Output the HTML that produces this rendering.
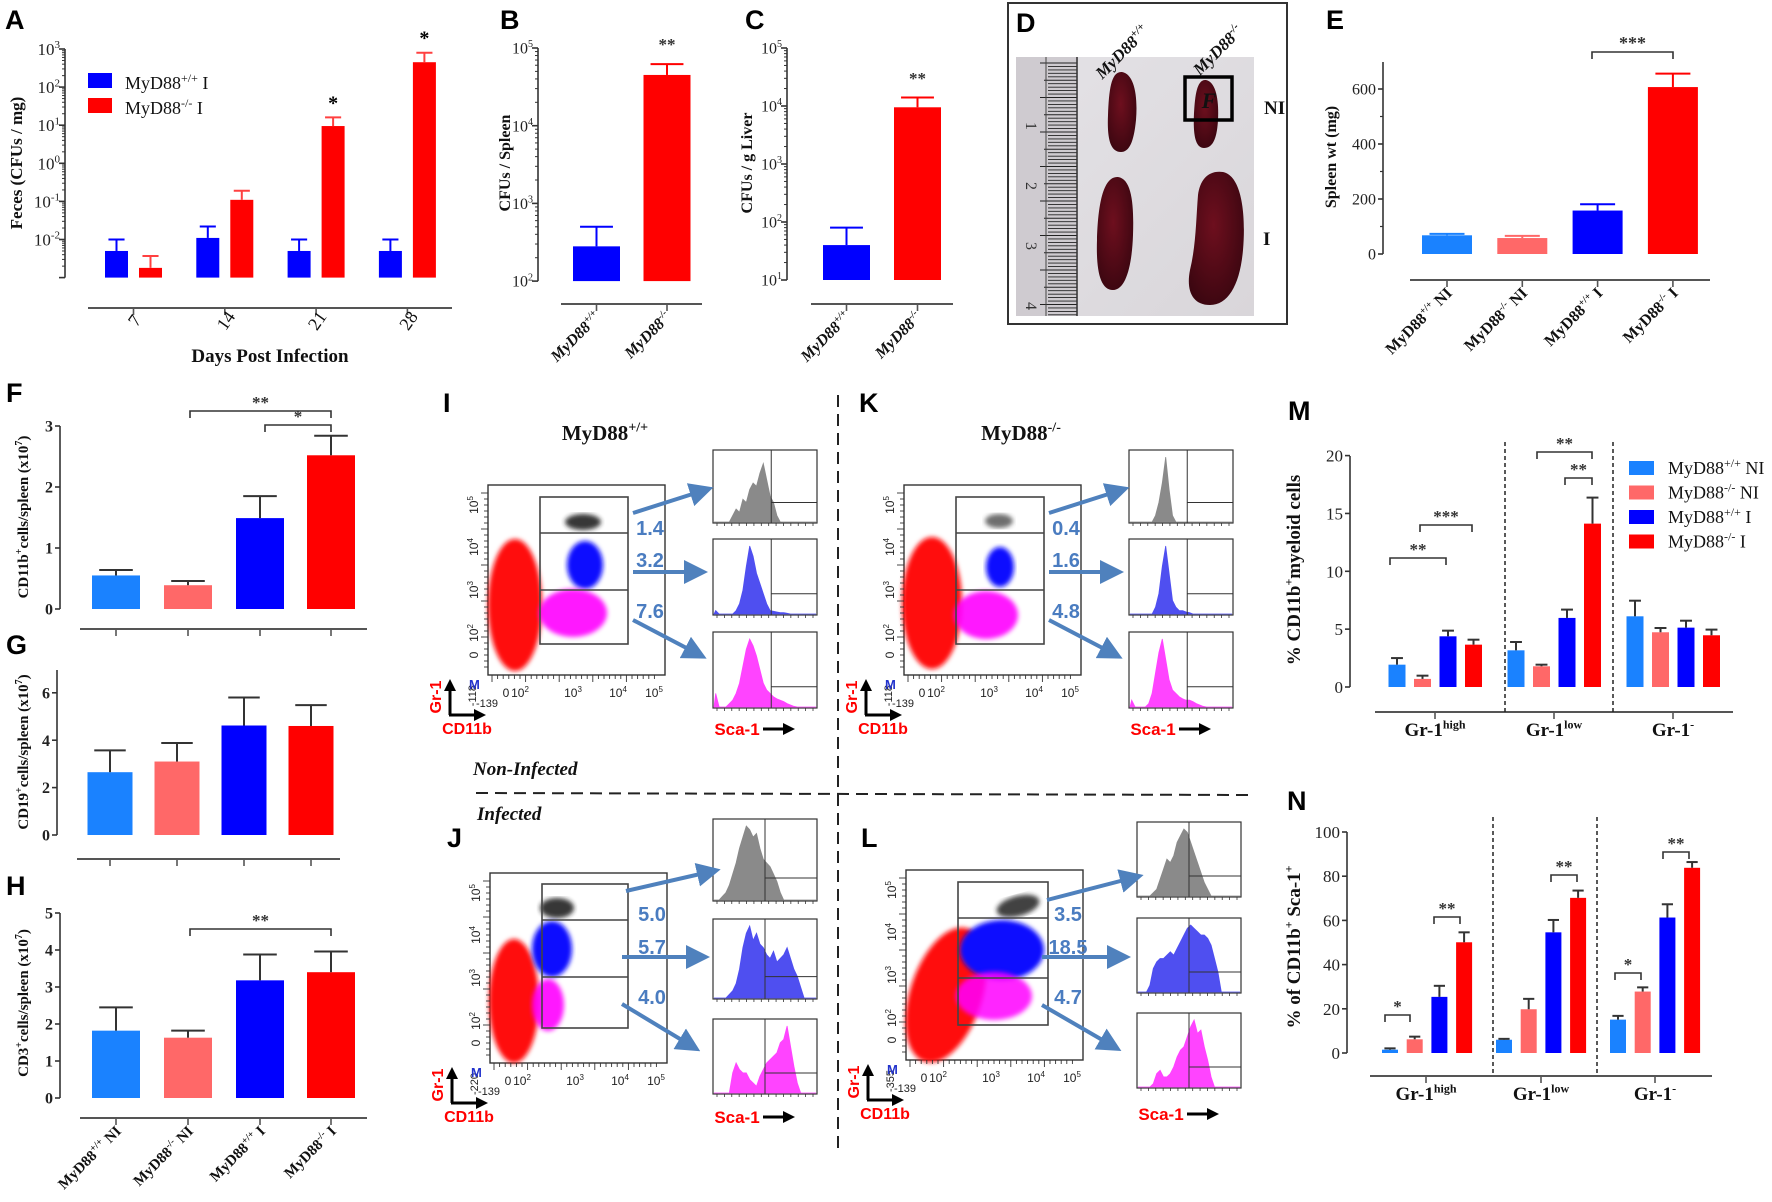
<!DOCTYPE html>
<html><head><meta charset="utf-8">
<style>
html,body{margin:0;padding:0;background:#fff}
svg{display:block}
text{font-family:"Liberation Serif",serif}
.sans{font-family:"Liberation Sans",sans-serif}
</style></head>
<body>
<svg id="fig" width="1772" height="1202" viewBox="0 0 1772 1202" xmlns="http://www.w3.org/2000/svg">
<defs>
  <filter id="blur2"><feGaussianBlur stdDeviation="2.5"/></filter>
  <filter id="blur1"><feGaussianBlur stdDeviation="1.2"/></filter>
  <radialGradient id="spleen" cx="45%" cy="40%" r="65%">
    <stop offset="0" stop-color="#6e0f1e"/><stop offset="1" stop-color="#3a0610"/>
  </radialGradient>
  <linearGradient id="photo" x1="0" y1="0" x2="1" y2="1">
    <stop offset="0" stop-color="#e4e2e6"/><stop offset="1" stop-color="#d9d6da"/>
  </linearGradient>
  <marker id="arrowhead" markerWidth="6" markerHeight="6" refX="3" refY="3" orient="auto" markerUnits="strokeWidth">
    <path d="M0,0 L6,3 L0,6 Z" fill="#4f81bd"/>
  </marker>
  <marker id="blackhead" markerWidth="4" markerHeight="4" refX="2" refY="2" orient="auto" markerUnits="strokeWidth">
    <path d="M0,0 L4,2 L0,4 Z" fill="#000"/>
  </marker>
</defs>
</svg>
<script>
// ---------------- DATA ----------------
const aCats = ['7','14','21','28'];
const aWT = [0.005, 0.011, 0.005, 0.005];
const aWTerr = [0.01, 0.022, 0.01, 0.01];
const aKO = [0.0018, 0.11, 9.5, 450];
const aKOerr = [0.0037, 0.19, 16, 800];
const bCats = ['+/+','-/-'];
const bVals = [280, 45000];
const bErr = [500, 62000];
const cVals = [40, 9500];
const cErr = [80, 14000];
const groupCats = ['+/+ NI','-/- NI','+/+ I','-/- I'];
const eVals = [68, 58, 158, 607];
const eErr = [73, 66, 181, 656];
const eTicks = [0, 200, 400, 600];
const fVals = [0.55, 0.39, 1.49, 2.52];
const fErr = [0.64, 0.46, 1.85, 2.84];
const fTicks = [0, 1, 2, 3];
const gVals = [2.65, 3.1, 4.62, 4.6];
const gErr = [3.57, 3.88, 5.8, 5.48];
const gTicks = [0, 2, 4, 6];
const hVals = [1.82, 1.63, 3.18, 3.4];
const hErr = [2.45, 1.82, 3.88, 3.96];
const hTicks = [0, 1, 2, 3, 4, 5];
const mGroups = ['high','low','-'];
const mVals = [[1.93,0.7,4.38,3.66],[3.17,1.79,5.97,14.12],[6.11,4.73,5.13,4.47]];
const mErr = [[2.5,0.98,4.87,4.09],[3.89,1.93,6.69,16.37],[7.46,5.1,5.73,4.96]];
const mTicks = [0, 5, 10, 15, 20];
const nVals = [[1.5,6.2,25.4,50.1],[6.0,19.8,54.6,70.2],[15.1,27.8,61.3,83.8]];
const nErr = [[2.1,7.4,30.4,54.6],[6.4,24.5,60.2,73.5],[16.8,29.7,67.3,86.4]];
const nTicks = [0, 20, 40, 60, 80, 100];
const legendLabels = ['MyD88^+/+| NI','MyD88^-/-| NI','MyD88^+/+| I','MyD88^-/-| I'];
const flowNumsI = ['1.4','3.2','7.6'];
const flowNumsJ = ['5.0','5.7','4.0'];
const flowNumsK = ['0.4','1.6','4.8'];
const flowNumsL = ['3.5','18.5','4.7'];
// histogram height profiles (0..1 across width)
const histIg = [0,0,0,0,0,0.1,0.2,0.15,0.35,0.3,0.5,0.6,0.55,0.75,0.9,0.65,0.4,0.3,0.1,0,0,0,0,0,0,0,0,0,0,0];
const histIb = [0.05,0,0,0,0,0,0.05,0.15,0.35,0.7,1,0.85,0.6,0.45,0.3,0.15,0.05,0.04,0.03,0.02,0.02,0.01,0,0,0,0,0,0,0,0];
const histIm = [0.2,0,0,0,0.05,0.1,0.2,0.35,0.6,0.85,1,0.9,0.75,0.55,0.35,0.25,0.2,0.15,0.12,0.1,0.08,0.05,0.03,0.01,0,0,0,0,0,0];
const histKg = [0,0,0,0,0,0,0,0.1,0.3,0.6,1,0.5,0.1,0,0,0,0,0,0,0,0,0,0,0,0,0,0,0,0,0];
const histKb = [0,0,0,0,0,0,0,0.1,0.3,0.7,1,0.6,0.2,0.1,0.05,0.05,0.03,0.02,0,0,0,0,0,0,0,0,0,0,0,0];
const histKm = [0.1,0,0,0,0,0.05,0.2,0.5,0.8,1,0.7,0.4,0.25,0.2,0.15,0.12,0.1,0.1,0.08,0.05,0.03,0.01,0,0,0,0,0,0,0,0];
const histJg = [0,0,0.05,0.1,0.2,0.35,0.5,0.7,0.85,1,0.95,0.85,0.9,0.7,0.55,0.5,0.45,0.35,0.25,0.1,0,0,0,0,0,0,0,0,0,0];
const histJb = [0,0,0,0,0.05,0.1,0.2,0.4,0.7,0.9,1,0.8,0.9,0.75,0.7,0.6,0.55,0.65,0.5,0.55,0.6,0.7,0.55,0.4,0.3,0.15,0,0,0,0];
const histJm = [0,0,0,0,0,0.3,0.45,0.35,0.3,0.3,0.2,0.15,0.1,0.25,0.35,0.45,0.5,0.55,0.6,0.75,0.8,1,0.7,0.4,0.15,0,0,0,0,0];
const histLg = [0,0,0,0,0.05,0.1,0.25,0.4,0.55,0.5,0.6,0.8,0.9,1,0.95,0.8,0.65,0.5,0.35,0.2,0.1,0,0,0,0,0,0,0,0,0];
const histLb = [0,0,0,0.1,0.35,0.45,0.5,0.5,0.55,0.6,0.55,0.65,0.75,0.85,0.95,1,0.95,0.9,0.85,0.85,0.8,0.7,0.5,0.3,0,0,0,0,0,0];
const histLm = [0,0,0,0,0.05,0.2,0.25,0.15,0.15,0.2,0.3,0.45,0.55,0.6,0.75,0.9,1,0.8,0.85,0.6,0.4,0.15,0,0,0,0,0,0,0,0];

const C_LB='#1a82ff', C_PK='#ff6868', C_BL='#0000ff', C_RD='#ff0000';
const groupCols=[C_LB,C_PK,C_BL,C_RD];

// ---------------- HELPERS ----------------
const NS='http://www.w3.org/2000/svg';
const svg=document.getElementById('fig');
function mk(tag, attrs, parent){
  const e=document.createElementNS(NS,tag);
  for(const k in attrs) e.setAttribute(k,attrs[k]);
  (parent||svg).appendChild(e);
  return e;
}
function grp(name){
  const g=mk('g',{});
  
  
  return g;
}
function ln(p,x1,y1,x2,y2,stroke,w,name,extra){
  const a={x1:x1,y1:y1,x2:x2,y2:y2,stroke:stroke,'stroke-width':w};
  if(extra) for(const k in extra) a[k]=extra[k];
  const e=mk('line',a,p);
  
  
  return e;
}
// rich text: "MyD88^+/+| NI"  -> '^' starts superscript, '|' ends it
function rich(p,x,y,str,size,attrs,name){
  const a={x:x,y:y,'font-size':size};
  if(attrs) for(const k in attrs) a[k]=attrs[k];
  const t=mk('text',a,p);
  
  
  let i=0, buf='', sup=false;
  function flush(){
    if(!buf) return;
    const ts=document.createElementNS(NS,'tspan');
    if(sup){ ts.setAttribute('font-size', Math.round(size*0.65)); ts.setAttribute('dy', -size*0.4); }
    ts.textContent=buf; t.appendChild(ts); buf='';
    return ts;
  }
  let needDown=false;
  for(const ch of str){
    if(ch==='^'){ flush(); sup=true; }
    else if(ch==='|'){ flush(); sup=false; needDown=true; }
    else {
      if(needDown && !sup){
        const ts=document.createElementNS(NS,'tspan');
        ts.setAttribute('dy', size*0.4);
        ts.textContent=ch; t.appendChild(ts); needDown=false; continue;
      }
      buf+=ch;
    }
  }
  const last=flush();
  return t;
}
function label(p,x,y,str,size,attrs,name){ return rich(p,x,y,str,size,attrs,name); }

function bars(p, prefix, xs, vals, errs, yf, base, w, cols, ecols){
  for(let i=0;i<vals.length;i++){
    const y=yf(vals[i]);
    const r=mk('rect',{x:xs[i]-w/2,y:y,width:w,height:base-y,fill:cols[i]},p);
    
    
    const ye=yf(errs[i]);
    ln(p,xs[i],y,xs[i],ye,ecols[i],2,prefix+'-error-bar-'+i);
    ln(p,xs[i]-w*0.35,ye,xs[i]+w*0.35,ye,ecols[i],2,prefix+'-error-cap-'+i);
  }
}
function bracket(p,x1,x2,y,stars,name,size){
  const path=mk('path',{d:`M${x1},${y+7} L${x1},${y} L${x2},${y} L${x2},${y+7}`,fill:'none',stroke:'#333','stroke-width':1.6},p);
  
  
  const t=mk('text',{x:(x1+x2)/2,y:y-3,'text-anchor':'middle','font-size':size||17,'font-weight':'bold',fill:'#333'},p);
  
  
  t.textContent=stars;
}
function linYAxis(p,prefix,x,ytop,ybot,ticks,yf,size,bold,minor){
  ln(p,x,ytop,x,ybot,'#333',1.6,prefix+'-y-axis');
  ticks.forEach((v,i)=>{
    const y=yf(v);
    ln(p,x-5,y,x,y,'#333',1.6,prefix+'-y-tick-'+i);
    const t=mk('text',{x:x-7,y:y+size*0.35,'text-anchor':'end','font-size':size,'font-weight':bold?'bold':'normal',fill:'#222'},p);
    
    
    t.textContent=String(v);
  });
  if(minor) minor.forEach((v,i)=>{ const y=yf(v); ln(p,x-3,y,x,y,'#333',1.2,prefix+'-y-minor-'+i); });
}
function logYAxis(p,prefix,x,yf,eTop,eBot,size){
  ln(p,x,yf(Math.pow(10,eTop)),x,yf(Math.pow(10,eBot)),'#333',1.6,prefix+'-y-axis');
  for(let e=eBot;e<=eTop;e++){
    const y=yf(Math.pow(10,e));
    ln(p,x-6,y,x,y,'#333',1.6,prefix+'-y-tick-'+e);
    if(!(prefix==='a' && e===-3)) rich(p,x-5,y+size*0.35,'10^'+e,size,{'text-anchor':'end',fill:'#222'},prefix+'-y-tick-label-'+e);
    if(e<eTop) for(let k=2;k<=9;k++){ const ym=yf(k*Math.pow(10,e)); ln(p,x-3,ym,x,ym,'#333',1,prefix+'-y-minor'); }
  }
}
function xLine(p,prefix,x1,x2,y,ticks){
  ln(p,x1,y,x2,y,'#555',2,prefix+'-x-axis');
  ticks.forEach((tx,i)=>ln(p,tx,y,tx,y+7,'#555',1.6,prefix+'-x-tick-'+i));
}
function rotLabel(p,x,y,str,size,angle,attrs,name){
  const a={'text-anchor':'end',transform:`rotate(${angle} ${x} ${y})`,'font-weight':'bold',fill:'#111'};
  if(attrs) for(const k in attrs) a[k]=attrs[k];
  return rich(p,x,y,str,size,a,name);
}
function yTitle(p,cx,cy,str,size,name){
  return rich(p,cx,cy,str,size,{'text-anchor':'middle',transform:`rotate(-90 ${cx} ${cy})`,'font-weight':'bold',fill:'#111'},name);
}
function panelLetter(x,y,ch){
  const t=mk('text',{x:x,y:y,'font-size':27,'font-weight':'bold',class:'sans',fill:'#000'});
  
  
  t.textContent=ch;
}

// ---------------- PANEL A ----------------
(function(){
  const p=grp('panel-a-feces-chart');
  const yA=v=>49+(3-Math.log10(v))*38.1;
  const base=yA(0.001);
  logYAxis(p,'a',65,yA,3,-3,17);
  const xsW=aCats.map((c,i)=>116.5+i*91.3);
  const xsK=aCats.map((c,i)=>150.5+i*91.3);
  bars(p,'a-wt',xsW,aWT,aWTerr,yA,base,23,aCats.map(()=>C_BL),aCats.map(()=>C_BL));
  bars(p,'a-ko',xsK,aKO,aKOerr,yA,base,23,aCats.map(()=>C_RD),aCats.map(()=>'#ff4040'));
  const tks=aCats.map((c,i)=>(xsW[i]+xsK[i])/2);
  xLine(p,'a',88,452,308,tks);
  aCats.forEach((c,i)=>rotLabel(p,tks[i]+6,324,c,18,-55,{'font-weight':'normal','text-anchor':'middle'},'a-x-label-'+c));
  label(p,270,362,'Days Post  Infection',19,{'text-anchor':'middle','font-weight':'bold',fill:'#111'},'a-x-axis-title');
  yTitle(p,22,163,'Feces (CFUs / mg)',17,'a-y-axis-title');
  [2,3].forEach(i=>label(p,xsK[i],yA(aKOerr[i])-8,'*',20,{'text-anchor':'middle','font-weight':'bold'},'a-significance-'+aCats[i]));
  const r1=mk('rect',{x:88,y:73,width:24,height:15,fill:C_BL},p);
  
  
  label(p,125,89,'MyD88^+/+| I',18,{fill:'#111'},'a-legend-entry-wt');
  const r2=mk('rect',{x:88,y:98,width:24,height:15,fill:C_RD},p);
  
  
  label(p,125,114,'MyD88^-/-| I',18,{fill:'#111'},'a-legend-entry-ko');
})();

// ---------------- PANEL B & C ----------------
function logPanel(prefix,ax,yf,eTop,eBot,xs,vals,errs,title,tcx,starY,lineX1,lineX2,w){
  const p=grp('panel-'+prefix+'-chart');
  const base=yf(Math.pow(10,eBot));
  logYAxis(p,prefix,ax,yf,eTop,eBot,16);
  bars(p,prefix,xs,vals,errs,yf,base,w,[C_BL,C_RD],[C_BL,C_RD]);
  xLine(p,prefix,lineX1,lineX2,304,xs);
  bCats.forEach((c,i)=>rotLabel(p,xs[i]+5,318,'MyD88^'+c+'|',16,-45,{'font-style':'italic'},prefix+'-x-label-'+i));
  yTitle(p,tcx,163,title,16,prefix+'-y-axis-title');
  label(p,xs[1],starY,'**',17,{'text-anchor':'middle','font-weight':'bold',fill:'#333'},prefix+'-significance');
}
logPanel('b',538,v=>48+(5-Math.log10(v))*77.7,5,2,[596.5,667],bVals,bErr,'CFUs / Spleen',510,50,561,702,47);
logPanel('c',787,v=>48+(5-Math.log10(v))*58,5,1,[846.5,917.5],cVals,cErr,'CFUs / g Liver',752,84,811,953,47);

// ---------------- PANEL D (photo) ----------------
(function(){
  const p=grp('panel-d-spleen-photo');
  const box=mk('rect',{x:1008,y:3,width:279,height:321,fill:'#fff',stroke:'#333','stroke-width':2},p);
  
  
  const ph=mk('rect',{x:1016,y:57,width:238,height:259,fill:'url(#photo)'},p);
  
  
  const ru=mk('rect',{x:1016,y:57,width:62,height:259,fill:'#cfcbd0'},p);
  
  
  for(let k=0;k<74;k++){
    const y=63+k*3.45;
    ln(p,(k%10===0)?1040:((k%5===0)?1044:1048),y,1077,y,'#222',0.9,'d-ruler-tick');
  }
  ln(p,1046,57,1046,316,'#444',1,'d-ruler-edge');
  ln(p,1077,57,1077,316,'#333',1.5,'d-ruler-edge');
  ['1','2','3','4'].forEach((n,i)=>label(p,1026,122+i*60,n,16,{transform:`rotate(90 1026 ${122+i*60})`,fill:'#333'},'d-ruler-number-'+n));
  const sp=[
    ['d-spleen-wt-ni','M1122,72 C1134,74 1138,95 1136,120 C1134,140 1130,152 1121,152 C1110,152 1107,138 1108,115 C1109,90 1111,71 1122,72 Z'],
    ['d-spleen-ko-ni','M1206,80 C1216,82 1219,100 1218,120 C1217,138 1213,148 1204,148 C1195,148 1193,134 1194,113 C1195,95 1197,79 1206,80 Z'],
    ['d-spleen-wt-i','M1118,177 C1132,179 1134,205 1133,235 C1132,265 1126,290 1113,290 C1100,290 1096,270 1097,240 C1098,205 1103,176 1118,177 Z'],
    ['d-spleen-ko-i','M1223,172 C1242,176 1246,215 1243,250 C1240,285 1228,305 1210,305 C1192,305 1186,290 1190,270 C1196,245 1196,220 1198,195 C1200,180 1208,170 1223,172 Z']
  ];
  sp.forEach(s=>{ const e=mk('path',{d:s[1],fill:'url(#spleen)'},p);   });
  const sq=mk('rect',{x:1185,y:77,width:47,height:43,fill:'none',stroke:'#000','stroke-width':3.5},p);
  
  
  label(p,1209,108,'F',22,{'text-anchor':'middle','font-style':'italic','font-weight':'bold',fill:'#111'},'d-box-label');
  rotLabel(p,1150,32,'MyD88^+/+|',17,-45,{'text-anchor':'end','font-style':'italic'},'d-column-label-wt');
  rotLabel(p,1244,32,'MyD88^-/-|',17,-45,{'text-anchor':'end','font-style':'italic'},'d-column-label-ko');
  label(p,1264,114,'NI',19,{'font-weight':'bold',fill:'#111'},'d-row-label-ni');
  label(p,1263,245,'I',19,{'font-weight':'bold',fill:'#111'},'d-row-label-i');
})();

// ---------------- PANEL E ----------------
(function(){
  const p=grp('panel-e-spleen-weight-chart');
  const yE=v=>254-v*0.275;
  linYAxis(p,'e',1383,62,254,eTicks,yE,16,false,[100,300,500]);
  const xs=groupCats.map((c,i)=>1447+i*75.3);
  bars(p,'e',xs,eVals,eErr,yE,254,50,groupCols,groupCols);
  xLine(p,'e',1410,1710,280,xs);
  groupCats.forEach((c,i)=>rotLabel(p,xs[i]+6,294,'MyD88^'+c.split(' ')[0]+'| '+c.split(' ')[1],16,-45,{},'e-x-label-'+i));
  bracket(p,1592,1673,52,'***','e-significance-bracket',18);
  yTitle(p,1336,157,'Spleen wt (mg)',16,'e-y-axis-title');
})();

// ---------------- PANELS F, G, H ----------------
function groupPanel(prefix,axX,ytop,base,scale,ticks,xs,w,vals,errs,lineY,lineX2,title,tcy,showLabels){
  const p=grp('panel-'+prefix+'-chart');
  const yf=v=>base-v*scale;
  linYAxis(p,prefix,axX,ytop,base,ticks,yf,16,true);
  bars(p,prefix,xs,vals,errs,yf,base,w,groupCols,groupCols.map(()=>'#333'));
  xLine(p,prefix,axX+20,lineX2,lineY,xs);
  if(showLabels) groupCats.forEach((c,i)=>rotLabel(p,xs[i]+6,lineY+14,'MyD88^'+c.split(' ')[0]+'| '+c.split(' ')[1],15,-45,{},prefix+'-x-label-'+i));
  yTitle(p,28,tcy,title,15,prefix+'-y-axis-title');
  return p;
}
const fp=groupPanel('f',60,426,609,61,fTicks,[116,188,260,331],48,fVals,fErr,629,367,'CD11b^+|cells/spleen (x10^7|)',517,false);
bracket(fp,190,331,411,'**','f-significance-bracket-1',17);
bracket(fp,265,331,425,'*','f-significance-bracket-2',17);
groupPanel('g',57,670,835,23.7,gTicks,[110,177,244,311],45,gVals,gErr,859,340,'CD19^+|cells/spleen (x10^7|)',752,false);
const hp=groupPanel('h',60,913,1098,37,hTicks,[116,188,260,331],48,hVals,hErr,1118,367,'CD3^+|cells/spleen (x10^7|)',1003,true);
bracket(hp,190,331,929,'**','h-significance-bracket',17);

// ---------------- PANELS M, N ----------------
function clusterPanel(prefix,axX,ytop,base,scale,ticks,starts,step,w,vals,errs,lineY,lineX1,lineX2,gTicksX,seps,sepTop,title,tcx,tcy){
  const p=grp('panel-'+prefix+'-chart');
  const yf=v=>base-v*scale;
  linYAxis(p,prefix,axX,ytop,base,ticks,yf,17,false);
  mGroups.forEach((g,gi)=>{
    const xs=vals[gi].map((v,i)=>starts[gi]+i*step);
    bars(p,prefix+'-'+g,xs,vals[gi],errs[gi],yf,base,w,groupCols,groupCols.map(()=>'#333'));
  });
  xLine(p,prefix,lineX1,lineX2,lineY,gTicksX);
  seps.forEach((sx,i)=>ln(p,sx,sepTop,sx,lineY,'#222',1.5,prefix+'-group-separator-'+i,{'stroke-dasharray':'4,3'}));
  mGroups.forEach((g,gi)=>rich(p,gTicksX[gi],lineY+24,'Gr-1^'+g+'|',19,{'text-anchor':'middle','font-weight':'bold',fill:'#111'},prefix+'-x-label-'+g));
  yTitle(p,tcx,tcy,title,19,prefix+'-y-axis-title');
  return p;
}
const mp=clusterPanel('m',1350,456,687,11.57,mTicks,[1397,1516,1635],25.5,17,mVals,mErr,712,1375,1733,[1435,1554,1673],[1505,1613],442,'% CD11b^+|myeloid cells',1300,570);
bracket(mp,1390,1446,558,'**','m-significance-high-1',17);
bracket(mp,1420,1472,525,'***','m-significance-high-2',17);
bracket(mp,1537,1592,452,'**','m-significance-low-1',17);
bracket(mp,1565,1592,478,'**','m-significance-low-2',17);
legendLabels.forEach((l,i)=>{
  const y=461+i*24.5;
  const r=mk('rect',{x:1629,y:y,width:25,height:14,fill:groupCols[i]},mp);
  
  
  rich(mp,1668,y+13,l,18,{fill:'#111'},'m-legend-entry-'+i);
});
const np=clusterPanel('n',1347,832,1053,2.21,nTicks,[1390,1504,1618],24.7,16,nVals,nErr,1076,1370,1712,[1426,1541,1655],[1493,1597],817,'% of CD11b^+| Sca-1^+|',1300,947);
bracket(np,1385,1410,1015,'*','n-significance-high-1',17);
bracket(np,1434,1460,917,'**','n-significance-high-2',17);
bracket(np,1551,1577,875,'**','n-significance-low',17);
bracket(np,1615,1641,973,'*','n-significance-neg-1',17);
bracket(np,1663,1689,852,'**','n-significance-neg-2',17);

// ---------------- FLOW PANELS ----------------
function histo(p,name,x,y,w,h,shape,fill,gx){
  const fr=mk('rect',{x:x,y:y,width:w,height:h,fill:'#fff',stroke:'#333','stroke-width':1.2},p);
  
  
  const n=shape.length;
  let d=`M${x+1},${y+h-1}`;
  shape.forEach((v,i)=>{ d+=` L${x+1+(i+0.5)*(w-2)/n},${y+h-1-v*(h-8)}`; });
  d+=` L${x+w-1},${y+h-1} Z`;
  const pa=mk('path',{d:d,fill:fill,stroke:fill,'stroke-width':0.8},p);
  
  
  ln(p,x+w*gx,y,x+w*gx,y+h,'#333',1,name+'-gate-line');
  ln(p,x+w*gx,y+h*0.72,x+w,y+h*0.72,'#333',1,name+'-gate-line-h');
  for(let k=0;k<14;k++) ln(p,x+4+k*(w-8)/13,y+h,x+4+k*(w-8)/13,y+h+3,'#333',0.8,name+'-tick');
}
function flowPanel(cfg){
  const p=grp(cfg.name);
  const ox=cfg.ox, oy=cfg.oy;
  const fr=mk('rect',{x:ox,y:oy,width:177,height:190,fill:'#fff',stroke:'#333','stroke-width':1.4},p);
  
  
  cfg.blobs.forEach((b,i)=>{
    const e=mk('ellipse',{cx:ox+b[0],cy:oy+b[1],rx:b[2],ry:b[3],fill:b[4],filter:'url(#blur2)',opacity:b[6]||1,transform:`rotate(${b[5]||0} ${ox+b[0]} ${oy+b[1]})`},p);
    
    
  });
  const g=cfg.gate;
  const gr=mk('rect',{x:ox+g[0],y:oy+g[1],width:g[2]-g[0],height:g[3]-g[1],fill:'none',stroke:'#444','stroke-width':1.6},p);
  
  
  ln(p,ox+g[0],oy+g[4],ox+g[2],oy+g[4],'#444',1.6,cfg.name+'-gate-divider-1');
  ln(p,ox+g[0],oy+g[5],ox+g[2],oy+g[5],'#444',1.6,cfg.name+'-gate-divider-2');
  // axis ticks
  for(let k=0;k<30;k++){ ln(p,ox+4+k*5.6,oy+190,ox+4+k*5.6,oy+190+(k%6===0?7:4),'#333',0.9,cfg.name+'-x-tick'); }
  for(let k=0;k<30;k++){ ln(p,ox-(k%6===0?7:4),oy+8+k*6,ox,oy+8+k*6,'#333',0.9,cfg.name+'-y-tick'); }
  [['10^5|',20],['10^4|',62],['10^3|',105],['10^2|',148]].forEach((l,i)=>rich(p,ox-10,oy+l[1],l[0],12,{'text-anchor':'middle',transform:`rotate(-90 ${ox-10} ${oy+l[1]})`,fill:'#222',class:'sans'},cfg.name+'-y-tick-label-'+i));
  rich(p,ox-10,oy+170,'0',12,{'text-anchor':'middle',transform:`rotate(-90 ${ox-10} ${oy+170})`,fill:'#222',class:'sans'},cfg.name+'-y-tick-label-0');
  rich(p,ox-12,oy+200,cfg.ymin,11,{'text-anchor':'end',transform:`rotate(-90 ${ox-12} ${oy+200})`,fill:'#222',class:'sans'},cfg.name+'-y-min-label');
  [['0',18],['10^2|',32],['10^3|',85],['10^4|',130],['10^5|',166]].forEach((l,i)=>rich(p,ox+l[1],oy+212,l[0],12,{'text-anchor':'middle',fill:'#222',class:'sans'},cfg.name+'-x-tick-label-'+i));
  rich(p,ox-1,oy+222,'-139',11,{'text-anchor':'middle',fill:'#222',class:'sans'},cfg.name+'-x-min-label');
  rich(p,ox-19,oy+204,'M',13,{'font-weight':'bold',fill:'#2233cc',class:'sans'},cfg.name+'-marker-m');
  // corner axis arrows
  ln(p,ox-38,oy+230,ox-38,oy+200,'#000',3,cfg.name+'-gr1-arrow',{'marker-end':'url(#blackhead)'});
  ln(p,ox-39,oy+230,ox-8,oy+230,'#000',3,cfg.name+'-cd11b-arrow',{'marker-end':'url(#blackhead)'});
  rich(p,ox-47,oy+212,'Gr-1',16,{'text-anchor':'middle',transform:`rotate(-90 ${ox-47} ${oy+212})`,'font-weight':'bold',fill:'#ff0000',class:'sans'},cfg.name+'-gr1-label');
  rich(p,ox-21,oy+249,'CD11b',16,{'text-anchor':'middle','font-weight':'bold',fill:'#ff0000',class:'sans'},cfg.name+'-cd11b-label');
  // numbers
  cfg.nums.forEach((n,i)=>rich(p,ox+162,oy+cfg.numY[i]+8,n,20,{'text-anchor':'middle','font-weight':'bold',fill:'#4a7cc0',class:'sans'},cfg.name+'-percentage-'+i));
  // histograms
  const hx=ox+cfg.hdx;
  cfg.hy.forEach((hy,i)=>histo(p,cfg.name+'-histogram-'+i,hx,oy+hy[0],104,hy[1]-hy[0],cfg.hist[i],['#8a8a8a','#4f4ff0','#ff44ff'][i],cfg.gx));
  // arrows
  const a=cfg.arrows;
  a.forEach((ar,i)=>ln(p,ox+ar[0],oy+ar[1],ox+ar[2],oy+ar[3],'#4f81bd',4,cfg.name+'-arrow-'+i,{'marker-end':'url(#arrowhead)'}));
  rich(p,hx+24,oy+250,'Sca-1',17,{'text-anchor':'middle','font-weight':'bold',fill:'#ff0000',class:'sans'},cfg.name+'-sca1-label');
  ln(p,hx+50,oy+244,hx+76,oy+244,'#000',3,cfg.name+'-sca1-arrow',{'marker-end':'url(#blackhead)'});
}
flowPanel({name:'panel-i-flow-wt-ni',ox:488,oy:485,nums:flowNumsI,numY:[42,74,125],ymin:'-118',gx:0.56,
  blobs:[[27,120,27,66,'#ff1010'],[95,37,18,8,'#222',0,0.9],[97,80,18,24,'#1010ff'],[85,128,34,24,'#ff00ff',0,0.9]],
  gate:[52,12,140,159,48,105],hdx:225,hy:[[-35,38],[54,130],[147,223]],hist:[histIg,histIb,histIm],
  arrows:[[145,28,214,6],[145,87,208,87],[145,135,208,168]]});
flowPanel({name:'panel-k-flow-ko-ni',ox:904,oy:485,nums:flowNumsK,numY:[42,74,125],ymin:'-118',gx:0.56,
  blobs:[[28,118,30,66,'#ff1010'],[95,36,14,7,'#333',0,0.7],[96,82,14,20,'#1010ff'],[82,130,32,24,'#ff00ff',0,0.9]],
  gate:[52,12,140,159,48,105],hdx:225,hy:[[-35,38],[54,130],[147,223]],hist:[histKg,histKb,histKm],
  arrows:[[145,28,214,6],[145,87,208,87],[145,135,208,168]]});
flowPanel({name:'panel-j-flow-wt-i',ox:490,oy:873,nums:flowNumsJ,numY:[40,73,123],ymin:'-220',gx:0.5,
  blobs:[[24,128,25,62,'#ff1010'],[67,35,17,10,'#222',0,0.9],[62,76,20,28,'#1010ff'],[58,132,16,26,'#ff00ff',0,0.9]],
  gate:[52,11,138,155,47,104],hdx:223,hy:[[-54,28],[46,126],[146,221]],hist:[histJg,histJb,histJm],
  arrows:[[136,18,219,-1],[132,84,208,84],[132,131,200,172]]});
flowPanel({name:'panel-l-flow-ko-i',ox:906,oy:870,nums:flowNumsL,numY:[43,76,126],ymin:'-355',gx:0.5,
  blobs:[[40,125,36,70,'#ff1010',18],[112,36,22,10,'#222',-15,0.85],[96,80,42,30,'#1010ff'],[88,126,38,24,'#ff00ff',0,0.85]],
  gate:[52,12,142,155,48,108],hdx:231,hy:[[-48,27],[48,123],[143,218]],hist:[histLg,histLb,histLm],
  arrows:[[141,30,226,8],[136,87,213,87],[136,135,205,175]]});

// titles, separators
(function(){
  const p=grp('flow-annotations');
  rich(p,605,440,'MyD88^+/+|',21,{'text-anchor':'middle','font-weight':'bold',fill:'#111'},'i-title');
  rich(p,1021,440,'MyD88^-/-|',21,{'text-anchor':'middle','font-weight':'bold',fill:'#111'},'k-title');
  rich(p,473,775,'Non-Infected',19,{'font-weight':'bold','font-style':'italic',fill:'#111'},'non-infected-label');
  rich(p,477,820,'Infected',19,{'font-weight':'bold','font-style':'italic',fill:'#111'},'infected-label');
  ln(p,838,395,838,1155,'#222',2,'vertical-dashed-divider',{'stroke-dasharray':'12,7'});
  ln(p,476,793,1252,795,'#222',2,'horizontal-dashed-divider',{'stroke-dasharray':'12,7'});
})();

// panel letters
[['A',5,29],['B',500,29],['C',745,29],['D',1016,32],['E',1326,29],['F',6,402],['G',6,654],['H',6,895],
 ['I',443,412],['K',859,412],['J',447,847],['L',861,847],['M',1288,420],['N',1287,810]].forEach(l=>panelLetter(l[1],l[2],l[0]));
</script>
</body></html>
